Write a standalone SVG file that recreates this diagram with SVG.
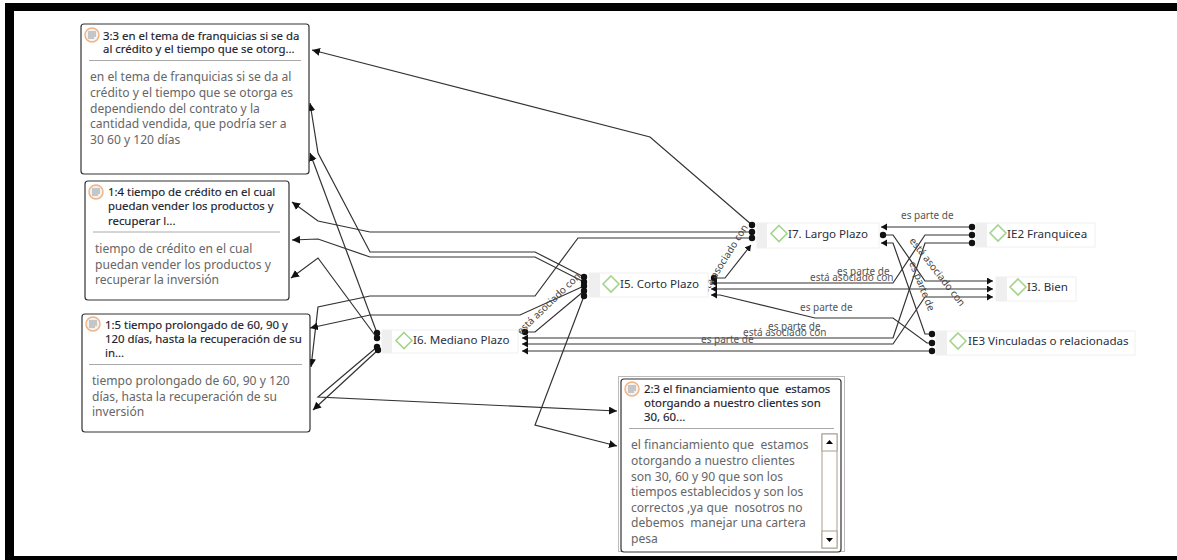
<svg xmlns="http://www.w3.org/2000/svg" width="1177" height="560" viewBox="0 0 1177 560">
<style>
text{font-family:"Noto Sans","Open Sans","DejaVu Sans",sans-serif;white-space:pre}
.note{fill:#fff;stroke:#333;stroke-width:1.2}
.div{stroke:#aaa;stroke-width:1}
.t{font-size:11.4px;fill:#1c1c2c;stroke:#1c1c2c;stroke-width:.15}
.b{font-size:12.1px;fill:#666}
.nb{fill:#fff;stroke:#f0f0f0;stroke-width:1}
.ng{fill:#efefef}
.d{fill:#fff;stroke:#a4d48c;stroke-width:1.6}
.n{font-size:11.6px;fill:#2a3040}
.c path{fill:none;stroke:#333;stroke-width:1.2}
.l{font-size:10px;fill:#555}
.lr{font-size:10px;fill:#444}
</style>
<defs>
<marker id="a" markerUnits="userSpaceOnUse" markerWidth="12" markerHeight="10" refX="8" refY="4" orient="auto-start-reverse"><path d="M0 0L8 4L0 8Z" fill="#111"/></marker>
<marker id="s" markerUnits="userSpaceOnUse" markerWidth="8" markerHeight="8" refX="6" refY="3.500" orient="auto-start-reverse"><path d="M0 0L6 3.500L0 7Z" fill="#111"/></marker>
<marker id="o" markerUnits="userSpaceOnUse" markerWidth="8" markerHeight="8" refX="4" refY="4"><circle cx="4" cy="4" r="3.2" fill="#111"/></marker>
<g id="ic"><circle r="7" fill="#f2f2f2" stroke="#f0b483" stroke-width="1.5"/><path d="M-4-3H4M-4-1H4M-4 1H4M-4 3H2" stroke="#999" stroke-width="1"/></g>
</defs>
<path d="M5 3H1177V11H14V556H1177V560H5Z" fill="#000"/>
<g class="c" id="connectors">
<path marker-start="url(#o)" marker-end="url(#a)" d="M752 225L650 137L312 50"/>
<path marker-start="url(#o)" marker-end="url(#a)" d="M752 232H370L318 221L292 202"/>
<path marker-start="url(#o)" marker-end="url(#a)" d="M752 238H578L535 296H370L318 307L311 367"/>
<path marker-start="url(#o)" marker-end="url(#a)" d="M584 277L535 252H370L318 153L310 103"/>
<path marker-start="url(#o)" marker-end="url(#a)" d="M584 282L535 257H370L318 239L292 240"/>
<path marker-start="url(#o)" marker-end="url(#a)" d="M584 286L520 315H370L310 328"/>
<path marker-start="url(#o)" marker-end="url(#a)" d="M584 296L535 425L617 446"/>
<path marker-start="url(#o)" marker-end="url(#a)" d="M377 333L310 153"/>
<path marker-start="url(#o)" marker-end="url(#a)" d="M377 338L318 258L291 278"/>
<path marker-start="url(#o)" marker-end="url(#a)" d="M377 347L318 397L617 411"/>
<path marker-start="url(#o)" marker-end="url(#a)" d="M378 350L313 410"/>
<path marker-start="url(#o)" marker-end="url(#o)" d="M525 332H535L584 291"/>
<path marker-start="url(#o)" marker-end="url(#s)" d="M714 278H725L751 245"/>
<path marker-start="url(#s)" marker-end="url(#o)" d="M711 283H893L925 235H972"/>
<path marker-start="url(#s)" marker-end="url(#s)" d="M711 289H993"/>
<path marker-start="url(#s)" marker-end="url(#o)" d="M711 295H720L815 318H893L927 343H932"/>
<path marker-start="url(#s)" marker-end="url(#o)" d="M522 338H893L925 243H972"/>
<path marker-start="url(#s)" marker-end="url(#s)" d="M522 344H893L925 297H993"/>
<path marker-start="url(#s)" marker-end="url(#o)" d="M522 351H932"/>
<path marker-start="url(#s)" marker-end="url(#o)" d="M881 227H972"/>
<path marker-start="url(#o)" marker-end="url(#s)" d="M883 235H893L925 281H993"/>
<path marker-start="url(#s)" marker-end="url(#o)" d="M881 243H893L925 334H932"/>
<text class="l" x="901" y="219">es parte de</text>
<text class="l" x="837" y="275">es parte de</text>
<text class="l" x="810" y="281">está asociado con</text>
<text class="l" x="800" y="311">es parte de</text>
<text class="l" x="768" y="330">es parte de</text>
<text class="l" x="743" y="336">está asociado con</text>
<text class="l" x="701" y="343">es parte de</text>
<text class="lr" transform="translate(909 241) rotate(52)">está asociado con</text>
<text class="lr" transform="translate(909 263) rotate(68)">es parte de</text>
<text class="lr" transform="translate(521 335) rotate(-44)">está asociado con</text>
<text class="lr" transform="translate(704 298) rotate(-58)">está asociado con</text>
</g>
<g id="n33"><rect class="note" x="81" y="24" width="228" height="150" rx="3"/><use href="#ic" x="92" y="35"/><text class="t" x="103" y="40">3:3 en el tema de franquicias si se da</text><text class="t" x="103" y="53">al crédito y el tiempo que se otorg...</text><path class="div" d="M89 60.500H301"/><text class="b" x="90" y="81">en el tema de franquicias si se da al</text><text class="b" x="90" y="97">crédito y el tiempo que se otorga es</text><text class="b" x="90" y="112.500">dependiendo del contrato y la</text><text class="b" x="90" y="128">cantidad vendida, que podría ser a</text><text class="b" x="90" y="143.500">30 60 y 120 días</text></g>
<g id="n14"><rect class="note" x="85" y="181" width="204" height="119" rx="3"/><use href="#ic" x="96" y="192"/><text class="t" x="108" y="196">1:4 tiempo de crédito en el cual</text><text class="t" x="108" y="210">puedan vender los productos y</text><text class="t" x="108" y="225">recuperar l...</text><path class="div" d="M93 232H280"/><text class="b" x="95" y="253">tiempo de crédito en el cual</text><text class="b" x="95" y="269">puedan vender los productos y</text><text class="b" x="95" y="284">recuperar la inversión</text></g>
<g id="n15"><rect class="note" x="82" y="314" width="228" height="118" rx="3"/><use href="#ic" x="93" y="324"/><text class="t" x="105" y="329">1:5 tiempo prolongado de 60, 90 y</text><text class="t" x="105" y="343">120 días, hasta la recuperación de su</text><text class="t" x="105" y="357">in...</text><path class="div" d="M89 364.500H302"/><text class="b" x="92" y="385">tiempo prolongado de 60, 90 y 120</text><text class="b" x="92" y="401">días, hasta la recuperación de su</text><text class="b" x="92" y="416">inversión</text></g>
<g id="n23"><rect x="618.500" y="376.500" width="226" height="175" fill="none" stroke="#777" stroke-dasharray="1 1"/><rect class="note" x="621" y="379" width="220" height="173" rx="3"/><use href="#ic" x="632" y="389"/><text class="t" x="644" y="393">2:3 el financiamiento que  estamos</text><text class="t" x="644" y="407">otorgando a nuestro clientes son</text><text class="t" x="644" y="421">30, 60...</text><path class="div" d="M629 428.500H834"/><text class="b" x="631" y="449">el financiamiento que  estamos</text><text class="b" x="631" y="465">otorgando a nuestro clientes</text><text class="b" x="631" y="481">son 30, 60 y 90 que son los</text><text class="b" x="631" y="496">tiempos establecidos y son los</text><text class="b" x="631" y="512">correctos ,ya que  nosotros no</text><text class="b" x="631" y="527">debemos  manejar una cartera</text><text class="b" x="631" y="543">pesa</text>
<rect x="822" y="434" width="15" height="114" fill="#fff" stroke="#a8a090"/><rect x="822" y="434" width="15" height="17" fill="#fff" stroke="#a8a090"/><rect x="822" y="531" width="15" height="17" fill="#fff" stroke="#a8a090"/><path d="M826 444L829.500 440L833 444ZM826 538H833L829.500 542Z" fill="#000"/></g>
<g id="i7"><rect class="nb" x="757" y="223" width="122" height="25"/><rect class="ng" x="757" y="223" width="10" height="25"/><path class="d" d="M779 225.500L787 233.500L779 241.500L771 233.500Z"/><text class="n" x="788" y="237.500">I7. Largo Plazo</text></g>
<g id="i5"><rect class="nb" x="589" y="273" width="119" height="24"/><rect class="ng" x="589" y="273" width="11" height="24"/><path class="d" d="M611 276L619 284L611 292L603 284Z"/><text class="n" x="620" y="288">I5. Corto Plazo</text></g>
<g id="i6"><rect class="nb" x="382" y="330" width="136" height="23"/><rect class="ng" x="382" y="330" width="10" height="23"/><path class="d" d="M404 332.500L412 340.500L404 348.500L396 340.500Z"/><text class="n" x="413" y="344">I6. Mediano Plazo</text></g>
<g id="ie2"><rect class="nb" x="976" y="223" width="119" height="24"/><rect class="ng" x="976" y="223" width="11" height="24"/><path class="d" d="M998 225L1006 233L998 241L990 233Z"/><text class="n" x="1007" y="237.500">IE2 Franquicea</text></g>
<g id="i3"><rect class="nb" x="996" y="277" width="80" height="24"/><rect class="ng" x="996" y="277" width="11" height="24"/><path class="d" d="M1018 279L1026 287L1018 295L1010 287Z"/><text class="n" x="1027" y="291">I3. Bien</text></g>
<g id="ie3"><rect class="nb" x="936" y="331" width="199" height="24"/><rect class="ng" x="936" y="331" width="11" height="24"/><path class="d" d="M958 333L966 341L958 349L950 341Z"/><text class="n" x="968" y="345">IE3 Vinculadas o relacionadas</text></g>
</svg>
